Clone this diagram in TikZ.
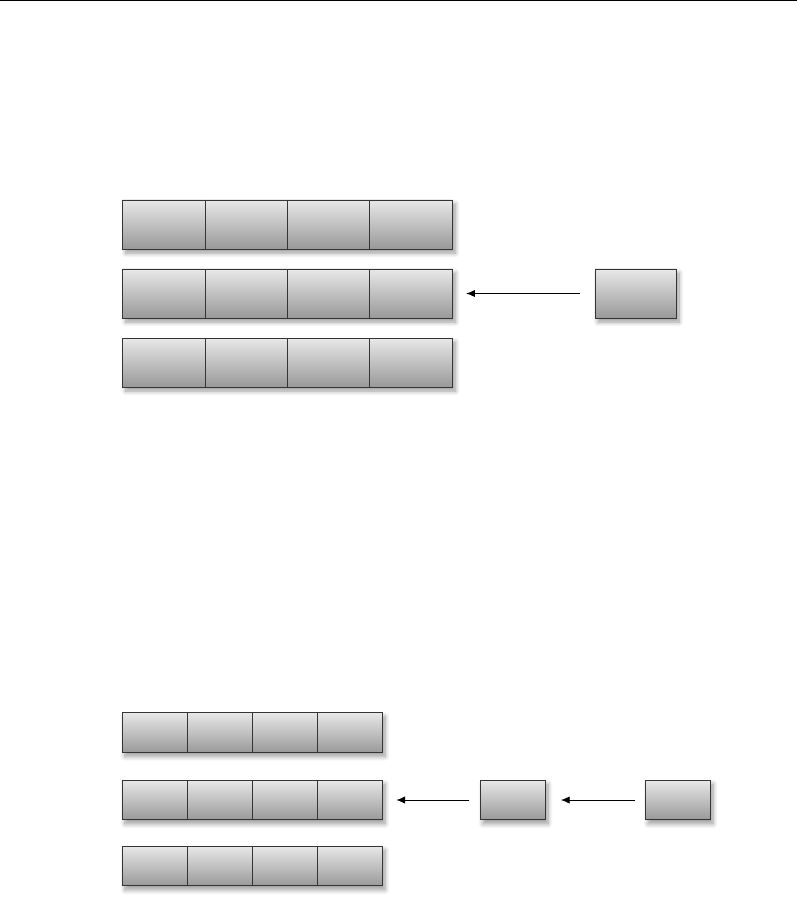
\documentclass[tikz,border=0pt]{standalone}
\usepackage{tikz}
\usetikzlibrary{arrows.meta,positioning,shadows.blur}
\usepackage{xcolor}
\definecolor{cellrim}{RGB}{52,52,52}

\tikzset{
  cell/.style={draw=cellrim, line width=0.8pt, top color=black!9, bottom color=black!40,
    minimum width=2.47cm, minimum height=1.47cm, inner sep=0pt, outer sep=0pt},
  small cell/.style={cell, minimum width=1.95cm, minimum height=1.19cm},
  soft shadow/.style={inner sep=0pt, outer sep=0pt,
    blur shadow={shadow xshift=0.09cm, shadow yshift=-0.12cm, shadow blur radius=0.14cm,
      shadow blur steps=10, shadow opacity=40}},
  row shadow/.style={soft shadow, fill=white, minimum height=#1},
  link/.style={-{Latex[length=2.6mm, width=2.2mm]}, line width=0.7pt}
}

\begin{document}
\begin{tikzpicture}[x=0.03cm, y=-0.03cm]
  \useasboundingbox (0,0) rectangle (797,903);
  \draw[line width=0.9pt] (0,0.5) -- (797,0.5);
  % upper array
  \foreach \r/\y in {1/224.5, 2/293.5, 3/362.5} {
    \node[row shadow=1.47cm, minimum width=9.88cm] (ts\r) at (287.6,\y) {};
    \node[cell] (t\r1) at (164.1,\y) {};
    \foreach \c [count=\p from 1] in {2,3,4}
      \node[cell, right=0pt of t\r\p] (t\r\c) {};
  }
  \node[cell, soft shadow, minimum width=2.43cm] (tnew) at (635.5,293.5) {};
  \draw[link, shorten <=0.45cm, shorten >=0.42cm] (tnew) -- (t24);
  % lower array
  \foreach \r/\y in {1/732.5, 2/800, 3/866} {
    \node[row shadow=1.19cm, minimum width=7.8cm] (bs\r) at (252,\y) {};
    \node[small cell] (b\r1) at (154.5,\y) {};
    \foreach \c [count=\p from 1] in {2,3,4}
      \node[small cell, right=0pt of b\r\p] (b\r\c) {};
  }
  \node[small cell, soft shadow] (bmid) at (512.5,800) {};
  \node[small cell, soft shadow] (bnew) at (677.5,800) {};
  \draw[link, shorten <=0.32cm, shorten >=0.43cm] (bmid) -- (b24);
  \draw[link, shorten <=0.31cm, shorten >=0.48cm] (bnew) -- (bmid);
\end{tikzpicture}
\end{document}
